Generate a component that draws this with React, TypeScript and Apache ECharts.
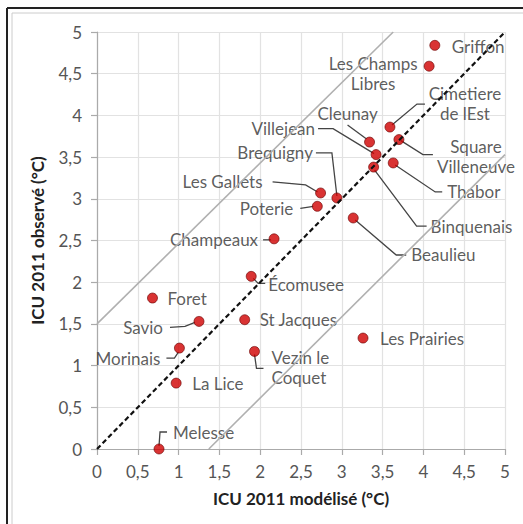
import React, { useEffect, useRef } from "react";
import * as echarts from "echarts";

const stations = [
  "Griffon", "Les Champs\nLibres", "Cimetiere\nde lEst", "Cleunay", "Square\nVilleneuve",
  "Villejean", "Thabor", "Binquenais", "Les Gallets", "Brequigny", "Poterie", "Beaulieu",
  "Champeaux", "Écomusee", "Foret", "Savio", "St Jacques", "Morinais", "Vezin le\nCoquet",
  "La Lice", "Melesse", "Les Prairies",
];
const modelled = [
  4.14, 4.07, 3.59, 3.34, 3.70, 3.42, 3.63, 3.39, 2.74, 2.94, 2.70, 3.14,
  2.17, 1.89, 0.68, 1.25, 1.81, 1.01, 1.93, 0.97, 0.76, 3.26,
];
const observed = [
  4.84, 4.59, 3.86, 3.68, 3.71, 3.53, 3.43, 3.38, 3.07, 3.01, 2.91, 2.77,
  2.52, 2.07, 1.81, 1.53, 1.55, 1.21, 1.17, 0.79, 0.00, 1.33,
];
const identityLine = [[0, 0], [5, 5]];
const upperBand = [[0, 1.5], [3.63, 5]];
const lowerBand = [[1.37, 0], [5, 3.53]];

// label placement (pixel offsets from the dot) and leader polylines (pixel offsets)
const labelLayout: [number, number, string][] = [
  [17, 1, "left"], [-56, 7, "center"], [75, -24, "center"], [-22, -29, "center"], [77, 17, "center"],
  [-61, -26, "right"], [54, 29, "left"], [57, 59, "left"], [-58, -11, "right"], [-24, -45, "right"],
  [-24, 2, "right"], [58, 37, "left"], [-16, 1, "right"], [17, 8, "left"], [15, 0, "left"],
  [-36, 6, "right"], [15, 0, "left"], [-19, 10, "right"], [17, 16, "left"], [16, 0, "left"],
  [14, -17, "left"], [17, 0, "left"],
];
const leaders: number[][][] = [
  [], [], [[2, -2], [27, -23], [35, -23]], [[-3, -3], [-22, -17]], [[2, 1], [24, 15], [34, 15]],
  [[-2, -1], [-43, -26], [-58, -26]], [[2, 2], [42, 29], [49, 29]], [[1, 3], [43, 59], [53, 59]],
  [[-3, -1], [-15, -8], [-48, -11]], [[0, -2], [-5, -45], [-21, -45]],
  [[-4, 0], [-17, 2]], [[2, 2], [43, 37], [53, 37]], [[-3, 1], [-11, 1]], [[2, 2], [7, 7], [14, 7]], [],
  [[-4, 1], [-14, 5], [-29, 6]], [], [[-1, 4], [-5, 10], [-13, 10]], [[0, 3], [2, 17], [9, 17]], [],
  [[0, -3], [1, -17], [8, -17]], [],
];

const FONT = "Lato, 'Open Sans', sans-serif";

export default function App() {
  const ref = useRef<HTMLDivElement>(null);
  useEffect(() => {
    document.body.style.margin = "0";
    const chart = echarts.init(ref.current!, null, { renderer: "svg" });
    const pts = stations.map((n, i) => [modelled[i], observed[i], i]);
    const axisCommon = {
      type: "value" as const,
      min: 0,
      max: 5,
      interval: 0.5,
      nameLocation: "middle" as const,
      nameTextStyle: { fontFamily: FONT, fontWeight: "bold", fontSize: 17, color: "#222" },
      axisLine: { show: true, lineStyle: { color: "#aaa", width: 1.2 } },
      axisTick: { show: true, length: 6, lineStyle: { color: "#aaa", width: 1.2 } },
      splitLine: { show: true, lineStyle: { color: "#e2e2e2", width: 1.2 } },
      axisLabel: {
        fontFamily: FONT,
        fontSize: 17,
        color: "#555",
        formatter: (v: number) => String(v).replace(".", ","),
      },
    };
    chart.setOption({
      animation: false,
      grid: { left: 97, right: 18, top: 32, bottom: 75 },
      xAxis: { ...axisCommon, name: "ICU 2011 modélisé (°C)", nameGap: 41, axisLabel: { ...axisCommon.axisLabel, margin: 14 } },
      yAxis: { ...axisCommon, name: "ICU 2011 observé (°C)", nameGap: 51, axisLabel: { ...axisCommon.axisLabel, margin: 15 } },
      graphic: [
        { type: "line", shape: { x1: 7, y1: 8, x2: 523, y2: 8 }, style: { stroke: "#222", lineWidth: 2 } },
        { type: "line", shape: { x1: 7, y1: 8, x2: 7, y2: 524 }, style: { stroke: "#222", lineWidth: 2 } },
        { type: "line", shape: { x1: 12, y1: 13, x2: 523, y2: 13 }, style: { stroke: "#ccc", lineWidth: 1 } },
        { type: "line", shape: { x1: 12, y1: 13, x2: 12, y2: 524 }, style: { stroke: "#ccc", lineWidth: 1 } },
      ],
      series: [
        { type: "line", data: upperBand, symbol: "none", silent: true, lineStyle: { color: "#b0b0b0", width: 1.6 } },
        { type: "line", data: lowerBand, symbol: "none", silent: true, lineStyle: { color: "#b0b0b0", width: 1.6 } },
        { type: "line", data: identityLine, symbol: "none", silent: true, lineStyle: { color: "#111", width: 2.2, type: [5, 3] } },
        {
          type: "custom",
          silent: true,
          data: pts,
          renderItem: (params: any, api: any) => {
            const i = params.dataIndex;
            const ld = leaders[i];
            if (!ld.length) return null;
            const c = api.coord([api.value(0), api.value(1)]);
            return {
              type: "polyline",
              shape: { points: ld.map(([dx, dy]) => [c[0] + dx, c[1] + dy]) },
              style: { stroke: "#444", lineWidth: 1.3, fill: null },
            };
          },
        },
        {
          type: "scatter",
          symbolSize: 10,
          itemStyle: { color: "#d00000", borderColor: "#6a0000", borderWidth: 0.8 },
          data: pts.map((p, i) => ({
            value: p,
            label: {
              show: true,
              formatter: stations[i],
              position: "inside",
              offset: [labelLayout[i][0], labelLayout[i][1]],
              align: labelLayout[i][2],
              verticalAlign: "middle",
              fontFamily: FONT,
              fontSize: 17,
              lineHeight: 20,
              color: "#333",
            },
          })),
        },
      ],
    });
    return () => chart.dispose();
  }, []);
  return <div ref={ref} style={{ width: 523, height: 524 }} />;
}
